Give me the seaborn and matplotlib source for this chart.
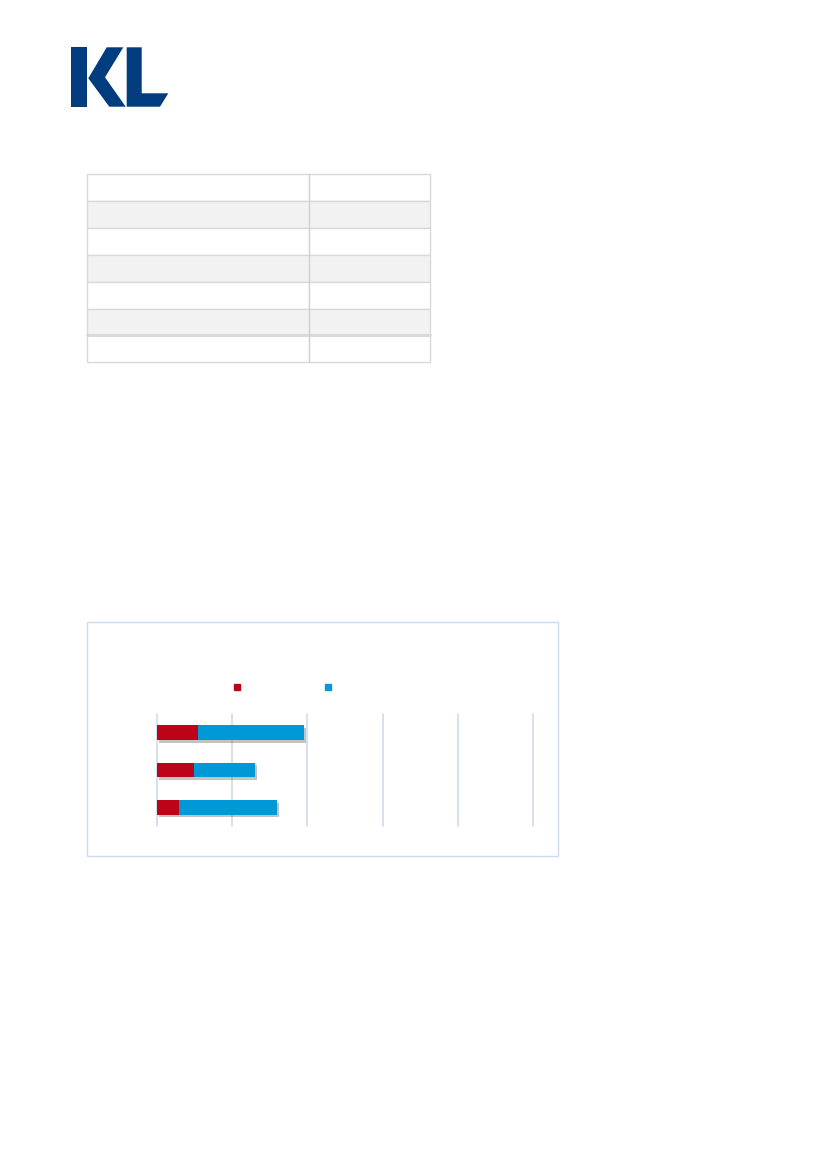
import numpy as np
import pandas as pd
import matplotlib
matplotlib.use("Agg")
import matplotlib.pyplot as plt
import matplotlib.patheffects as pe
from matplotlib.patches import Polygon, Rectangle
from matplotlib.lines import Line2D
import seaborn as sns

# data (gridline step = 1)
groups = ["A", "B", "C"]
red_vals = [0.55, 0.49, 0.30]
blue_vals = [1.40, 0.81, 1.30]
x_ticks = [0, 1, 2, 3, 4, 5]

# empty table on the page: 7 rows, 2 columns
n_rows = 7
shaded_rows = [1, 3, 5]

RED = "#bb0418"
BLUE = "#0098d6"
KL_BLUE = "#003c7e"
W, H = 827, 1169

sns.set_style("white")
fig = plt.figure(figsize=(W / 100, H / 100), dpi=100)

# page layer in pixel coordinates (logo, table, chart frame)
page = fig.add_axes([0, 0, 1, 1], zorder=0)
page.set_xlim(0, W)
page.set_ylim(H, 0)
page.axis("off")

# KL logo
page.add_patch(Rectangle((71, 47.3), 15.7, 59.4, color=KL_BLUE, lw=0))
page.add_patch(Polygon([(106.7, 47.3), (123.3, 47.3), (105, 77.3), (125.7, 106.7),
                        (109.3, 106.7), (88.3, 78.3)], closed=True, color=KL_BLUE, lw=0))
page.add_patch(Polygon([(126.7, 47.3), (141.7, 47.3), (141.7, 93.3), (168.3, 93.3),
                        (160, 106.7), (126.7, 106.7)], closed=True, color=KL_BLUE, lw=0))

# table
t_left, t_right, t_div, t_top, row_h = 87, 430, 309, 174, 26.9
for i in range(n_rows):
    y0 = t_top + i * row_h
    fc = "#f2f2f2" if i in shaded_rows else "white"
    page.add_patch(Rectangle((t_left, y0), t_right - t_left, row_h,
                             facecolor=fc, edgecolor="#d9d9d9", lw=1))
page.plot([t_left, t_right], [t_top + 6 * row_h] * 2, color="#d9d9d9", lw=2.2)
page.plot([t_div, t_div], [t_top, t_top + n_rows * row_h], color="#cfcfcf", lw=1)

# chart frame
page.add_patch(Rectangle((87, 622), 471, 234, facecolor="white",
                         edgecolor="#c9daf2", lw=1))

# bar chart
df = pd.DataFrame({"group": groups, "red": red_vals, "blue": blue_vals})
df["total"] = df["red"] + df["blue"]

ax = fig.add_axes([156.7 / W, 1 - 826 / H, (533.3 - 156.7) / W, 112 / H], zorder=2)
ax.patch.set_alpha(0)
for x in x_ticks:
    ax.axvline(x, color="#cdd7ea", lw=1.1, zorder=0, clip_on=False)

sns.barplot(data=df, x="total", y="group", color=BLUE, width=0.39,
            saturation=1, orient="h", ax=ax, zorder=2, linewidth=0, edgecolor="none")
for bar in ax.patches:
    bar.set_path_effects([pe.SimplePatchShadow(offset=(1.5, -2), shadow_rgbFace="#555555",
                                               alpha=0.35), pe.Normal()])
sns.barplot(data=df, x="red", y="group", color=RED, width=0.39,
            saturation=1, orient="h", ax=ax, zorder=3, linewidth=0, edgecolor="none")

ax.set_xlim(x_ticks[0], x_ticks[-1])
ax.set_ylim(len(groups) - 0.5, -0.5)
ax.set_xticks(x_ticks)
ax.set_xticklabels([])
ax.set_yticklabels([])
ax.set_xlabel("")
ax.set_ylabel("")
ax.tick_params(length=0)
sns.despine(ax=ax, left=True, bottom=True)

# legend (markers only)
handles = [Line2D([], [], marker="s", ls="", color=RED, markersize=4.8),
           Line2D([], [], marker="s", ls="", color=BLUE, markersize=4.8)]
fig.legend(handles, ["", ""], ncol=2, frameon=False, loc="center",
           bbox_to_anchor=(285.5 / W, 1 - 688 / H), handlelength=0.6,
           handletextpad=0.4, columnspacing=5.58, borderpad=0, fontsize=10)

fig.savefig("out.png", dpi=100, facecolor="white")
